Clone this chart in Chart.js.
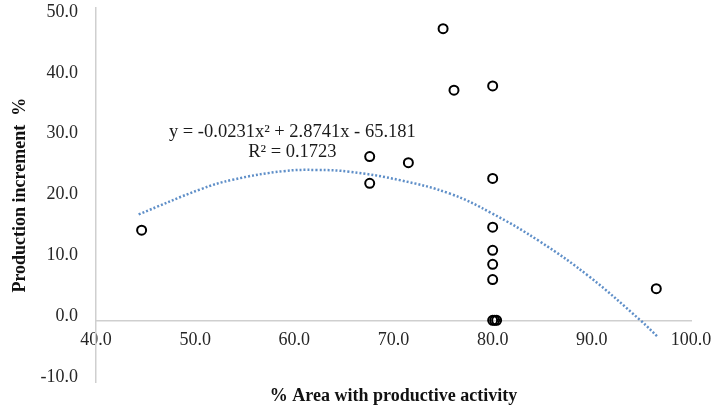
<!DOCTYPE html>
<html>
<head>
<meta charset="utf-8">
<script src="https://cdn.jsdelivr.net/npm/chart.js@4/dist/chart.umd.min.js"></script>
<style>
  html, body { margin: 0; padding: 0; background: #ffffff; }
  #wrap { width: 723px; height: 410px; }
</style>
</head>
<body>
<div id="wrap"><canvas id="c" width="723" height="410"></canvas></div>
<script>
// ---- data ----
const areaPct = [44.6, 75.0, 76.1, 80.0, 67.6, 67.6, 71.5, 80.0, 80.0, 80.0, 80.0, 80.0, 80.0, 80.2, 80.4, 96.5];
const incrementPct = [14.8, 47.9, 37.8, 38.5, 26.9, 22.5, 25.9, 23.3, 15.3, 11.5, 9.2, 6.7, 0.0, 0.0, 0.0, 5.2];
const trendX = [44.3, 50.5, 53.8, 58.9, 62.3, 65.6, 70.7, 75.7, 79.9, 84.8, 89.8, 94.9, 96.7];
const trendY = [17.4, 21.5, 23.1, 24.5, 24.7, 24.4, 23.0, 20.8, 17.6, 12.9, 7.1, 0.0, -2.8];
const xTicks = [40, 50, 60, 70, 80, 90, 100];
const yTicks = [-10, 0, 10, 20, 30, 40, 50];
const equationLines = ['y = -0.0231x\u00B2 + 2.8741x - 65.181', 'R\u00B2 = 0.1723'];
const xTitle = '% Area with productive activity';
const yTitle = 'Production increment  %';

// ---- build chart ----
const pts = areaPct.map((v, i) => ({ x: v, y: incrementPct[i] }));
const trendPts = trendX.map((v, i) => ({ x: v, y: trendY[i] }));

const serif = '"Liberation Serif", "Times New Roman", serif';
const eqAnchor = { x: 59.8, y1: 30.9, y2: 27.6 };

const equationPlugin = {
  id: 'equation',
  afterDatasetsDraw(chart) {
    const { ctx, scales } = chart;
    const px = scales.x.getPixelForValue(eqAnchor.x);
    ctx.save();
    ctx.font = '18.5px ' + serif;
    ctx.fillStyle = '#1a1a1a';
    ctx.textAlign = 'center';
    ctx.textBaseline = 'middle';
    ctx.fillText(equationLines[0], px, scales.y.getPixelForValue(eqAnchor.y1));
    ctx.fillText(equationLines[1], px, scales.y.getPixelForValue(eqAnchor.y2));
    ctx.restore();
  }
};

new Chart(document.getElementById('c'), {
  type: 'scatter',
  data: {
    datasets: [
      {
        label: 'data',
        data: pts,
        pointRadius: 4.5,
        pointHoverRadius: 4.5,
        pointBorderWidth: 2,
        pointBorderColor: '#000000',
        pointBackgroundColor: 'rgba(255,255,255,0)',
        showLine: false
      },
      {
        label: 'trend',
        data: trendPts,
        showLine: true,
        pointRadius: 0,
        borderColor: '#5f8fc8',
        borderWidth: 2.5,
        borderDash: [2, 2],
        borderCapStyle: 'butt',
        tension: 0.4,
        fill: false
      }
    ]
  },
  options: {
    responsive: false,
    animation: false,
    devicePixelRatio: 1,
    layout: { padding: { top: 8, right: 32, bottom: 0, left: 0 } },
    plugins: {
      legend: { display: false },
      tooltip: { enabled: false },
      title: { display: false }
    },
    scales: {
      x: {
        type: 'linear',
        position: { y: 0 },
        min: 40,
        max: 100,
        z: 1,
        afterBuildTicks: (s) => { s.ticks = xTicks.map(v => ({ value: v })); },
        afterFit: (s) => { s.height = 0; },
        grid: { display: false, drawTicks: false },
        border: { display: true, color: '#cfcfcf', width: 1.5 },
        ticks: {
          padding: 9,
          color: '#262626',
          font: { family: serif, size: 18 },
          callback: (v) => Number(v).toFixed(1),
          maxRotation: 0,
          autoSkip: false,
          showLabelBackdrop: true,
          backdropColor: '#ffffff',
          backdropPadding: 3
        }
      },
      x2: {
        type: 'linear',
        position: 'bottom',
        min: 40,
        max: 100,
        grid: { display: false, drawTicks: false },
        border: { display: false },
        ticks: { display: false },
        title: {
          display: true,
          text: xTitle,
          color: '#111111',
          font: { family: serif, size: 18, weight: 'bold' },
          padding: { top: 3, bottom: 3 }
        }
      },
      y: {
        type: 'linear',
        position: 'left',
        min: -10.2,
        max: 51.3,
        afterBuildTicks: (s) => { s.ticks = yTicks.map(v => ({ value: v })); },
        afterFit: (s) => { s.width = 96; s.paddingTop = 0; s.paddingBottom = 0; },
        grid: { display: false, drawTicks: false },
        border: { display: true, color: '#cfcfcf', width: 1.5 },
        ticks: {
          padding: 18,
          labelOffset: -4,
          color: '#262626',
          font: { family: serif, size: 18 },
          callback: (v) => Number(v).toFixed(1)
        },
        title: {
          display: true,
          text: yTitle,
          color: '#111111',
          font: { family: serif, size: 18, weight: 'bold' },
          padding: { top: 10, bottom: 4 }
        }
      }
    }
  },
  plugins: [equationPlugin]
});
</script>
</body>
</html>
